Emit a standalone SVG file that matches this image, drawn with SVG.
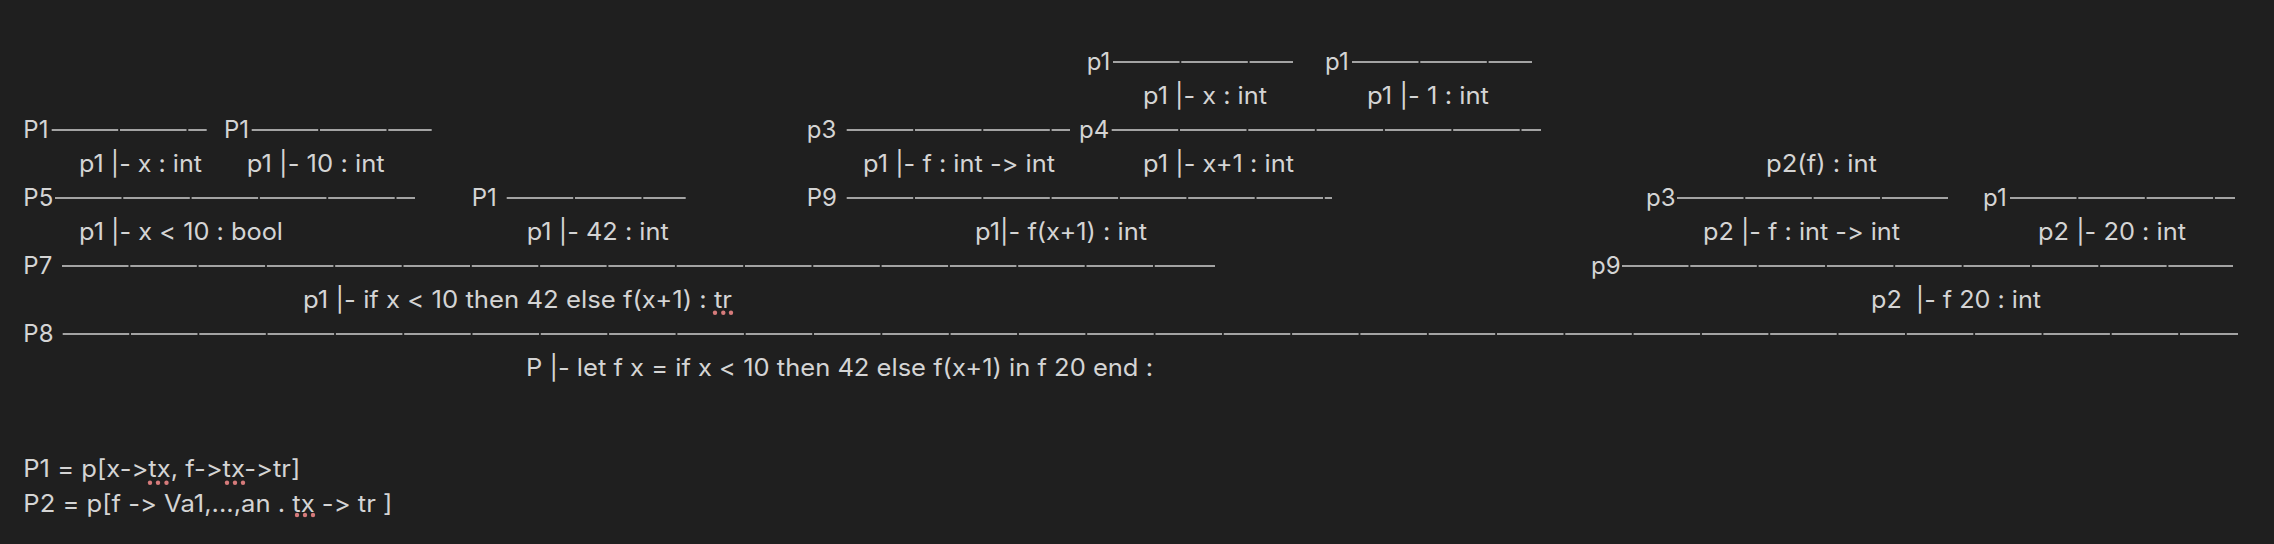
<svg xmlns="http://www.w3.org/2000/svg" width="2274" height="544" viewBox="0 0 2274 544">
<style>
  text { font-family: Inter, "Liberation Sans", sans-serif; font-size: 24px; fill: #d4d4d4; font-variant-ligatures: none; font-feature-settings: "calt" 0, "liga" 0; }
  .bar { stroke: #d0d0d0; stroke-width: 1.6; stroke-dasharray: 66.5 1.8; fill: none; }
  .sq { fill: #d67b7b; }
</style>
<rect width="2274" height="544" fill="#1f1f1f"/>
<g id="connectors">
  <line class="bar" x1="1113" y1="62" x2="1293" y2="62"/>
  <line class="bar" x1="1352" y1="62" x2="1532" y2="62"/>
  <line class="bar" x1="51.7" y1="130" x2="206.7" y2="130"/>
  <line class="bar" x1="251.7" y1="130" x2="431.7" y2="130"/>
  <line class="bar" x1="846.7" y1="130" x2="1070" y2="130"/>
  <line class="bar" x1="1111.7" y1="130" x2="1541" y2="130"/>
  <line class="bar" x1="55" y1="198" x2="415" y2="198"/>
  <line class="bar" x1="506.7" y1="198" x2="685.7" y2="198"/>
  <line class="bar" x1="846.7" y1="198" x2="1332" y2="198"/>
  <line class="bar" x1="1677" y1="198" x2="1948" y2="198"/>
  <line class="bar" x1="2010" y1="198" x2="2235" y2="198"/>
  <line class="bar" x1="62" y1="266" x2="1215" y2="266"/>
  <line class="bar" x1="1622" y1="266" x2="2233" y2="266"/>
  <line class="bar" x1="62.7" y1="334" x2="2238" y2="334"/>
</g>
<g id="rule-labels">
  <text x="1086.7" y="69.5">p1</text>
  <text x="1325" y="69.5">p1</text>
  <text x="23.3" y="137.5">P1</text>
  <text x="224" y="137.5">P1</text>
  <text x="806.7" y="137.5">p3</text>
  <text x="1079" y="137.5">p4</text>
  <text x="23.3" y="205.5">P5</text>
  <text x="471.7" y="205.5">P1</text>
  <text x="806.7" y="205.5">P9</text>
  <text x="1646" y="205.5">p3</text>
  <text x="1983" y="205.5">p1</text>
  <text x="23.3" y="273.5">P7</text>
  <text x="1591" y="273.5">p9</text>
  <text x="23.3" y="341.5">P8</text>
</g>
<g id="j-x-int-a"><text x="1143" y="103.5" textLength="124" lengthAdjust="spacingAndGlyphs">p1 |- x : int</text></g>
<g id="j-1-int"><text x="1367" y="103.5" textLength="122" lengthAdjust="spacingAndGlyphs">p1 |- 1 : int</text></g>
<g id="j-x-int-b"><text x="79" y="171.5" textLength="123" lengthAdjust="spacingAndGlyphs">p1 |- x : int</text></g>
<g id="j-10-int"><text x="246.7" y="171.5" textLength="138" lengthAdjust="spacingAndGlyphs">p1 |- 10 : int</text></g>
<g id="j-f-type"><text x="863" y="171.5" textLength="192" lengthAdjust="spacingAndGlyphs">p1 |- f : int -&gt; int</text></g>
<g id="j-x1-int"><text x="1143" y="171.5" textLength="151" lengthAdjust="spacingAndGlyphs">p1 |- x+1 : int</text></g>
<g id="j-p2f"><text x="1766" y="171.5" textLength="111" lengthAdjust="spacingAndGlyphs">p2(f) : int</text></g>
<g id="j-cond"><text x="79" y="239.5" textLength="204" lengthAdjust="spacingAndGlyphs">p1 |- x &lt; 10 : bool</text></g>
<g id="j-42-int"><text x="526.7" y="239.5" textLength="142" lengthAdjust="spacingAndGlyphs">p1 |- 42 : int</text></g>
<g id="j-fx1-int"><text x="975" y="239.5" textLength="172" lengthAdjust="spacingAndGlyphs">p1|- f(x+1) : int</text></g>
<g id="j-p2-f-type"><text x="1703" y="239.5" textLength="197" lengthAdjust="spacingAndGlyphs">p2 |- f : int -&gt; int</text></g>
<g id="j-20-int"><text x="2038" y="239.5" textLength="148" lengthAdjust="spacingAndGlyphs">p2 |- 20 : int</text></g>
<g id="j-if"><text x="303" y="307.5" textLength="429" lengthAdjust="spacingAndGlyphs">p1 |- if x &lt; 10 then 42 else f(x+1) : tr</text>
  <circle class="sq" cx="715" cy="312.7" r="2.2"/><circle class="sq" cx="723.3" cy="312.7" r="2.2"/><circle class="sq" cx="731" cy="312.7" r="2.2"/></g>
<g id="j-f20-int"><text x="1871" y="307.5" textLength="170" lengthAdjust="spacingAndGlyphs" xml:space="preserve">p2  |- f 20 : int</text></g>
<g id="j-root"><text x="526" y="375.5" textLength="627" lengthAdjust="spacingAndGlyphs">P |- let f x = if x &lt; 10 then 42 else f(x+1) in f 20 end :</text></g>
<g id="def-P1"><text x="23.3" y="477.3" textLength="277" lengthAdjust="spacingAndGlyphs">P1 = p[x-&gt;tx, f-&gt;tx-&gt;tr]</text>
  <circle class="sq" cx="150" cy="482.7" r="2.2"/><circle class="sq" cx="158" cy="482.7" r="2.2"/><circle class="sq" cx="166.5" cy="482.7" r="2.2"/>
  <circle class="sq" cx="227" cy="482.7" r="2.2"/><circle class="sq" cx="235" cy="482.7" r="2.2"/><circle class="sq" cx="243" cy="482.7" r="2.2"/></g>
<g id="def-P2"><text x="23.3" y="511.7" textLength="369" lengthAdjust="spacingAndGlyphs">P2 = p[f -&gt; Va1,...,an . tx -&gt; tr ]</text>
  <circle class="sq" cx="297" cy="515" r="2.2"/><circle class="sq" cx="305" cy="515" r="2.2"/><circle class="sq" cx="313" cy="515" r="2.2"/></g>
</svg>
